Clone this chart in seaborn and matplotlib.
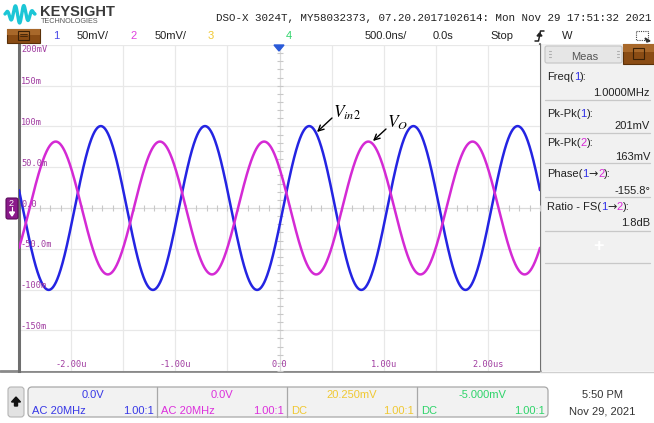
import numpy as np
import pandas as pd
import matplotlib
matplotlib.use("Agg")
import matplotlib.pyplot as plt
import seaborn as sns
from matplotlib.patches import Rectangle, FancyBboxPatch, Polygon

# ---- scope readouts -------------------------------------------------------
freq_mhz = 1.0                 # Freq(1)
pkpk_mv = [201, 163]           # Pk-Pk(1), Pk-Pk(2)
phase_deg = -155.8             # Phase(1->2)
ch1_peak_us = 0.285            # time of a channel-1 crest

meas_names = [
    [("Freq(", "k"), ("1", "b"), ("):", "k")],
    [("Pk-Pk(", "k"), ("1", "b"), ("):", "k")],
    [("Pk-Pk(", "k"), ("2", "m"), ("):", "k")],
    [("Phase(", "k"), ("1", "b"), ("→", "k"), ("2", "m"), ("):", "k")],
    [("Ratio - FS(", "k"), ("1", "b"), ("→", "k"), ("2", "m"), ("):", "k")],
]
meas_values = ["1.0000MHz", "201mV", "163mV", "-155.8°", "1.8dB"]

time_ticks = [-2, -1, 0, 1, 2]
time_labels = ["-2.00u", "-1.00u", "0.0", "1.00u", "2.00us"]
volt_ticks = [200, 150, 100, 50, 0, -50, -100, -150]
volt_labels = ["200mV", "150m", "100m", "50.0m", "0.0", "-50.0m", "-100m", "-150m"]

chan_offsets = ["0.0V", "0.0V", "20.250mV", "-5.000mV"]
chan_coupling = ["AC 20MHz", "AC 20MHz", "DC", "DC"]
chan_probe = ["1.00:1", "1.00:1", "1.00:1", "1.00:1"]

BLUE = "#2424e2"
MAG = "#d42ad4"
YEL = "#f0c832"
GRN = "#2ed46a"
LABEL = "#a03ca0"
ccol = {"k": "#222222", "b": "#3030e8", "m": "#d82ad8"}

sns.set_theme(style="white")
plt.rcParams["font.family"] = ["Liberation Sans", "DejaVu Sans"]
plt.rcParams["mathtext.fontset"] = "stix"

W, H = 654, 423
fig = plt.figure(figsize=(W / 100, H / 100), dpi=100)
fig.patch.set_facecolor("white")

# pixel-space background layer
bg = fig.add_axes([0, 0, 1, 1])
bg.set_xlim(0, W)
bg.set_ylim(H, 0)
bg.axis("off")

# ---- waveform area --------------------------------------------------------
ax = fig.add_axes([19 / W, 1 - 371 / H, 521 / W, 326 / H])
ax.set_facecolor("white")
ax.set_xlim(-2.5, 2.5)
ax.set_ylim(-200, 200)
ax.set_xticks(np.arange(-2.5, 2.51, 0.5))
ax.set_yticks(np.arange(-200, 201, 50))
ax.tick_params(length=0, labelbottom=False, labelleft=False)
ax.grid(True, color="#e8e8e8", lw=0.9)
for s in ["top", "right"]:
    ax.spines[s].set_visible(False)
ax.spines["left"].set_color("#6e6e6e")
ax.spines["left"].set_linewidth(2.2)
ax.spines["bottom"].set_visible(False)

# centre crosshair with minor ticks
ax.axhline(0, color="#dadada", lw=0.8, zorder=1)
ax.axvline(0, color="#dadada", lw=0.8, zorder=1)
mx = np.arange(-2.5, 2.51, 0.1)
my = np.arange(-200, 201, 10)
ax.plot(mx, np.zeros_like(mx), ls="none", marker="|", ms=4, color="#c8c8c8", mew=0.8)
ax.plot(np.zeros_like(my), my, ls="none", marker="_", ms=4, color="#c8c8c8", mew=0.8)

t_us = np.linspace(-2.5, 2.5, 2001)
w = 2 * np.pi * freq_mhz
ch1_mv = pkpk_mv[0] / 2 * np.cos(w * (t_us - ch1_peak_us))
ch2_mv = pkpk_mv[1] / 2 * np.cos(w * (t_us - ch1_peak_us) - np.deg2rad(phase_deg))
df = pd.DataFrame({
    "t": np.concatenate([t_us, t_us]),
    "mv": np.concatenate([ch1_mv, ch2_mv]),
    "ch": ["1"] * len(t_us) + ["2"] * len(t_us),
})
sns.lineplot(data=df, x="t", y="mv", hue="ch", palette={"1": BLUE, "2": MAG},
             estimator=None, legend=False, lw=1.8, ax=ax, zorder=3)
ax.set_xlabel("")
ax.set_ylabel("")

mono = ["DejaVu Sans Mono"]
for v, lab in zip(volt_ticks, volt_labels):
    ax.annotate(lab, xy=(0, v), xycoords=ax.get_yaxis_transform(),
                xytext=(2, -4 if v == 200 else 4), textcoords="offset pixels",
                ha="left", va="center", fontsize=6.2, color=LABEL, family=mono,
                zorder=5)
for tv, lab in zip(time_ticks, time_labels):
    ax.text(tv, 0.02, lab, transform=ax.get_xaxis_transform(), ha="center",
            va="center", fontsize=6.2, color=LABEL, family=mono, zorder=5)

# ---- header ---------------------------------------------------------------
lt = np.linspace(0, 1, 200)
env = np.sin(np.pi * lt) ** 0.8
bg.plot(5 + 30 * lt, 14 - 9 * env * np.sin(2 * np.pi * 3.5 * lt + 0.3),
        color="#1cc6d6", lw=2.4, solid_capstyle="round")
bg.text(40, 12.5, "KEYSIGHT", fontsize=10.5, fontweight="bold", color="#3a3a3a",
        ha="left", va="center")
bg.text(41, 21.5, "TECHNOLOGIES", fontsize=5.2, color="#555555", ha="left",
        va="center")
bg.text(652, 18, "DSO-X 3024T, MY58032373, 07.20.2017102614: Mon Nov 29 17:51:32 2021",
        fontsize=7.8, family=["Liberation Mono"], color="#222222", ha="right",
        va="center")

# channel strip
bg.add_patch(Rectangle((7, 29), 33, 14, facecolor="#8a4c14", edgecolor="#5a3008", lw=0.8))
bg.add_patch(Rectangle((7, 29), 33, 6, facecolor="#a8682a", edgecolor="none"))
bg.add_patch(Rectangle((18, 31), 11, 9, facecolor="none", edgecolor="#3a2006", lw=0.8))
bg.plot([20, 27], [34, 34], color="#3a2006", lw=0.6)
bg.plot([20, 27], [36.5, 36.5], color="#3a2006", lw=0.6)
bar_y = 36
bg.text(53, bar_y, "1", color="#4848e8", fontsize=8, ha="left", va="center")
bg.text(77, bar_y, "50mV/", color="#222222", fontsize=8, ha="left", va="center")
bg.text(130, bar_y, "2", color="#e040e0", fontsize=8, ha="left", va="center")
bg.text(155, bar_y, "50mV/", color="#222222", fontsize=8, ha="left", va="center")
bg.text(208, bar_y, "3", color=YEL, fontsize=8, ha="left", va="center")
bg.text(286, bar_y, "4", color=GRN, fontsize=8, ha="left", va="center")
bg.text(365, bar_y, "500.0ns/", color="#222222", fontsize=8, ha="left", va="center")
bg.text(433, bar_y, "0.0s", color="#222222", fontsize=8, ha="left", va="center")
bg.text(490, bar_y, "Stop", color="#222222", fontsize=8, ha="left", va="center")
bg.plot([535, 538.5, 540.5, 544], [41, 41, 31, 31], color="#222222", lw=1.1)
bg.add_patch(Polygon([[537, 36], [542, 36], [539.5, 33]], closed=True, color="#222222"))
bg.text(562, bar_y, "W", color="#222222", fontsize=8, ha="left", va="center")
bg.add_patch(Rectangle((636, 31), 12, 9, facecolor="none", edgecolor="#444444",
                       lw=0.8, ls=(0, (1, 1))))
bg.add_patch(Polygon([[645, 38], [650, 41], [647, 42]], closed=True, color="#333333"))

# ---- measurement panel ----------------------------------------------------
bg.add_patch(Rectangle((540, 44), 114, 327, facecolor="#f1f1f1", edgecolor="none"))
bg.plot([540, 540], [44, 371], color="#707070", lw=1.6)
bg.add_patch(FancyBboxPatch((545, 46), 77, 17, boxstyle="round,pad=0,rounding_size=2",
                            facecolor="#e6e6e6", edgecolor="#c4c4c4", lw=0.8))
bg.text(585, 56.5, "Meas", fontsize=8, color="#555555", ha="center", va="center")
for gx in (549, 617):
    for gy in (51, 54, 57):
        bg.plot([gx, gx + 2], [gy, gy], color="#b0b0b0", lw=0.8)
bg.add_patch(Rectangle((623, 44), 31, 20, facecolor="#8a4c14", edgecolor="#5a3008", lw=0.8))
bg.add_patch(Rectangle((623, 44), 31, 8, facecolor="#a8682a", edgecolor="none"))
bg.add_patch(Rectangle((633, 48), 11, 11, facecolor="none", edgecolor="#3a2006", lw=0.8))

fig.canvas.draw()
renderer = fig.canvas.get_renderer()


def colored_text(x, y, parts, size=8):
    for s, c in parts:
        fam = ["DejaVu Sans"] if s == "→" else ["Liberation Sans", "DejaVu Sans"]
        t = bg.text(x, y, s, color=ccol[c], fontsize=size, ha="left", va="center",
                    family=fam)
        x += t.get_window_extent(renderer).width


name_y = [77, 114, 143, 174, 207]
value_y = [93, 126, 157, 191, 223]
sep_y = [100, 133, 163, 197, 231, 263]
for parts, ny in zip(meas_names, name_y):
    colored_text(547, ny, parts)
for val, vy in zip(meas_values, value_y):
    bg.text(650, vy, val, fontsize=8, color="#222222", ha="right", va="center")
for sy in sep_y:
    bg.plot([545, 650], [sy, sy], color="#c8c8c8", lw=0.9)
bg.text(598, 247, "+", fontsize=13, color="white", fontweight="bold",
        ha="center", va="center")

# ---- bottom strip ---------------------------------------------------------
bg.plot([0, 540], [371.5, 371.5], color="#8a8a8a", lw=2)
bg.plot([540, 654], [372, 372], color="#d0d0d0", lw=1)
bg.add_patch(FancyBboxPatch((8, 387), 16, 30, boxstyle="round,pad=0,rounding_size=3",
                            facecolor="#e2e2e2", edgecolor="#b4b4b4", lw=0.8))
bg.add_patch(Polygon([[16, 397], [20.5, 402], [17.5, 402], [17.5, 406], [14.5, 406],
                      [14.5, 402], [11.5, 402]], closed=True, color="#111111"))
bg.add_patch(FancyBboxPatch((28, 387), 520, 30, boxstyle="round,pad=0,rounding_size=4",
                            facecolor="#f2f2f2", edgecolor="#a8a8a8", lw=0.9))
seg_edges = [28, 157, 287, 417, 548]
seg_cols = ["#3838e6", "#dc30dc", YEL, GRN]
for i in range(4):
    x0, x1 = seg_edges[i], seg_edges[i + 1]
    if i > 0:
        bg.plot([x0, x0], [387, 417], color="#a8a8a8", lw=0.9)
    bg.text((x0 + x1) / 2, 395, chan_offsets[i], color=seg_cols[i], fontsize=8,
            ha="center", va="center")
    bg.text(x0 + 4, 410.5, chan_coupling[i], color=seg_cols[i], fontsize=8,
            ha="left", va="center")
    bg.text(x1 - 3, 410.5, chan_probe[i], color=seg_cols[i], fontsize=8,
            ha="right", va="center")
bg.text(602, 395, "5:50 PM", color="#333333", fontsize=8, ha="center", va="center")
bg.text(602, 411, "Nov 29, 2021", color="#333333", fontsize=8, ha="center", va="center")

# ---- overlay: markers and trace labels -----------------------------------
fg = fig.add_axes([0, 0, 1, 1], facecolor="none")
fg.set_xlim(0, W)
fg.set_ylim(H, 0)
fg.axis("off")
fg.add_patch(Polygon([[274, 45], [284, 45], [279, 51]], closed=True, color="#2a5ad8"))
fg.add_patch(FancyBboxPatch((6, 198), 12, 21, boxstyle="round,pad=0,rounding_size=2",
                            facecolor="#8a1a8a", edgecolor="#5a0a5a", lw=0.8))
fg.text(11, 204, "2", color="white", fontsize=6.5, ha="center", va="center")
fg.plot([12, 12], [207, 215], color="white", lw=0.8)
fg.add_patch(Polygon([[9.5, 212], [14.5, 212], [12, 216]], closed=True, color="white"))

fg.annotate("", xy=(317, 132), xytext=(332, 118),
            arrowprops=dict(arrowstyle="->", color="black", lw=1.0,
                            mutation_scale=10, shrinkA=0, shrinkB=0))
fg.text(333, 113, r"$V_{\mathit{in2}}$", fontsize=12.5, color="black", ha="left",
        va="center")
fg.annotate("", xy=(373, 141), xytext=(386, 129),
            arrowprops=dict(arrowstyle="->", color="black", lw=1.0,
                            mutation_scale=10, shrinkA=0, shrinkB=0))
fg.text(387, 123, r"$V_O$", fontsize=12.5, color="black", ha="left", va="center")

fig.savefig("out.png", dpi=100)
